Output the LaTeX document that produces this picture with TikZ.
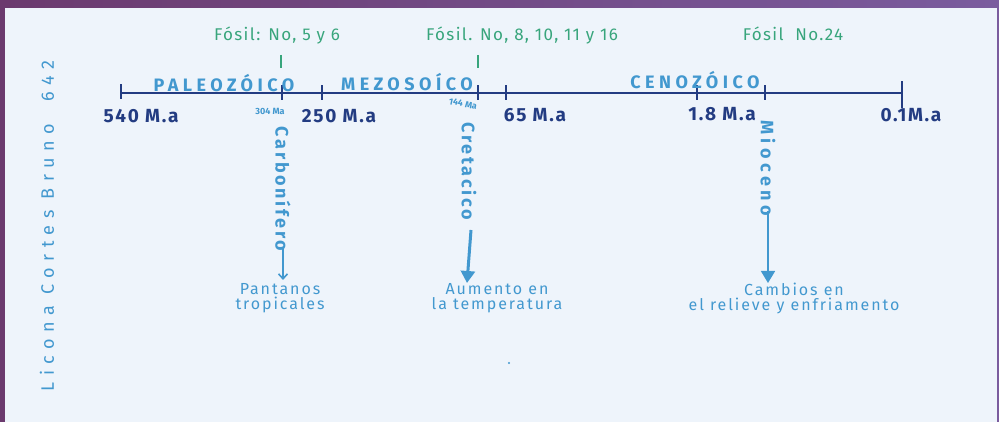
\documentclass[tikz,border=0pt]{standalone}
\usepackage{fontspec}
\setmainfont{Fira Sans}
\newfontfamily\erafont[LetterSpace=25]{Fira Sans}
\newfontfamily\scfont[LetterSpace=9]{Fira Sans}
\newfontfamily\fosfont[LetterSpace=8]{Fira Sans}
\newfontfamily\vfont[LetterSpace=15]{Fira Sans}
\newfontfamily\wvfont[LetterSpace=25]{Fira Sans}
\newfontfamily\notefont[LetterSpace=12]{Fira Sans}
\newfontfamily\authfont[LetterSpace=36]{Fira Sans}
\usetikzlibrary{arrows.meta}
\definecolor{navy}{HTML}{233C82}
\definecolor{lblue}{HTML}{4298CF}
\definecolor{fgreen}{HTML}{38A57C}
\definecolor{panel}{HTML}{EEF4FB}
\definecolor{purpL}{HTML}{6B3A6E}
\definecolor{purpR}{HTML}{7A5C9E}
\tikzset{
  scalelbl/.style={text=navy, font=\fontsize{19}{19}\selectfont\scfont\bfseries, inner sep=0pt},
  eralbl/.style={text=lblue, font=\fontsize{18}{18}\selectfont\erafont\bfseries, inner sep=0pt},
  fosil/.style={text=fgreen, font=\fontsize{17}{17}\selectfont\fosfont, inner sep=0pt},
  vert/.style={text=lblue, font=\fontsize{18}{18}\selectfont\vfont\bfseries, rotate=-90, inner sep=0pt},
  note/.style={text=lblue, font=\fontsize{16}{15}\selectfont\notefont, align=center, inner sep=0pt},
  smalllbl/.style={text=lblue, font=\fontsize{9}{9}\selectfont\bfseries, inner sep=0pt},
  tickline/.style={draw=navy, line width=2pt},
  fosmark/.style={draw=fgreen, line width=1.6pt},
}
\begin{document}
\begin{tikzpicture}[x=1pt,y=-1pt]
\useasboundingbox (0,0) rectangle (999,422);
\shade[left color=purpL, right color=purpR] (0,0) rectangle (999,422);
\fill[panel] (5,8) rectangle (997,422);

% timeline coordinates
\coordinate (t540) at (121,93);
\coordinate (t304) at (282,93);
\coordinate (t250) at (322,93);
\coordinate (t144) at (478,93);
\coordinate (t65) at (506,93);
\coordinate (t18) at (697,93);
\coordinate (tmio) at (765,93);
\coordinate (t01) at (902,93);

\draw[navy, line width=2.4pt] (t540) -- (t01);
\draw[tickline] ([yshift=-6pt]t540) -- ([yshift=9pt]t540);
\draw[tickline] ([yshift=-15pt]t01) -- ([yshift=12pt]t01);
\foreach \c in {t304,t250,t144,t65,t18,tmio}
  \draw[tickline] ([yshift=-7pt]\c) -- ([yshift=8pt]\c);

% eras
\node[eralbl] (pal) at (224,83) {PALEOZÓICO};
\node[eralbl] (mez) at (407,82) {MEZOSOÍCO};
\node[eralbl] (cen) at (695,80) {CENOZÓICO};

% scale labels
\node[scalelbl] (l540) at (141,116) {540 M.a};
\node[scalelbl] (l250) at (339,116) {250 M.a};
\node[scalelbl] (l65) at (535,115) {65 M.a};
\node[scalelbl] (l18) at (722,114) {1.8 M.a};
\node[scalelbl] (l01) at (911,115) {0.1M.a};

\node[smalllbl] (m304) at (270,111) {304 Ma};
\node[smalllbl, rotate=-12] (m144) at (463,104) {144 Ma};

% fossils
\node[fosil] (f1) at (277,36) {Fósil: No, 5 y 6};
\node[fosil] (f2) at (522,36) {Fósil. No, 8, 10, 11 y 16};
\node[fosil] (f3) at (793,34) {Fósil \ No.24};
\coordinate (f1a) at (281,55); \coordinate (f1b) at (281,68);
\coordinate (f2a) at (478,55); \coordinate (f2b) at (478,68);
\draw[fosmark] (f1a) -- (f1b);
\draw[fosmark] (f2a) -- (f2b);

% vertical period labels
\node[vert] (carb) at (283,189) {Carbonífero};
\node[vert] (cret) at (469,171) {Cretacico};
\node[vert, font=\fontsize{18}{18}\selectfont\wvfont\bfseries] (mio) at (768,168) {Mioceno};

% outcomes
\node[note] (pan) at (280,298) {Pantanos\\tropicales};
\node[note] (aum) at (497,298) {Aumento en\\la temperatura};
\node[note] (cam) at (794,298) {Cambios en\\el relieve y enfriamento};

\draw[lblue, line width=1.6pt, -{Straight Barb[length=5pt,width=9pt]}] ([yshift=4pt]carb.east) -- (283,280);
\draw[lblue, line width=3pt, -{Triangle[length=12pt,width=14pt]}] (471,230) -- (467,283);
\draw[lblue, line width=1.6pt, -{Triangle[length=12pt,width=14pt]}] ([yshift=5pt]mio.east) -- (768,283);

% author
\node[text=lblue, font=\fontsize{18}{18}\selectfont\authfont, rotate=90, inner sep=0pt] (auth) at (47,226) {Licona Cortes Bruno \ 642};

\fill[lblue] (509,363) circle (1.2pt);
\end{tikzpicture}
\end{document}
